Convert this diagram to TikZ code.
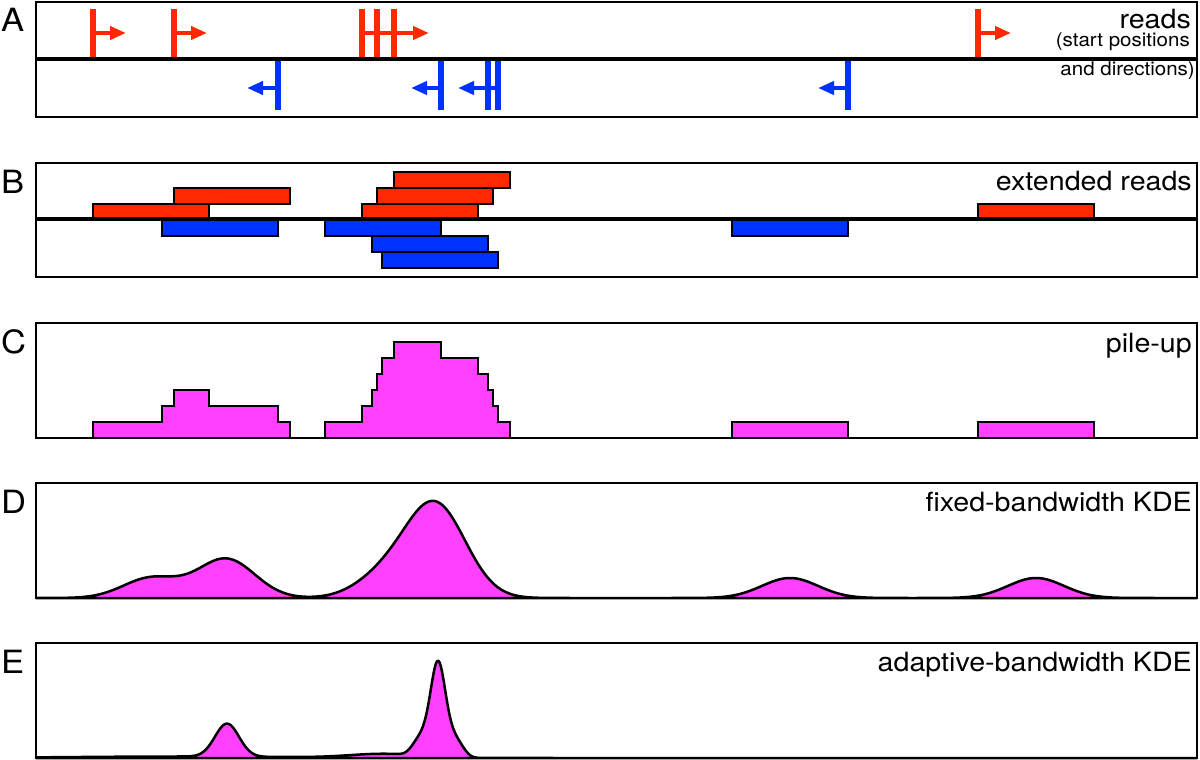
\documentclass[tikz,border=0pt]{standalone}
\usepackage{fontspec}
\setmainfont{TeX Gyre Heros}
\newfontfamily\lblfont[FakeStretch=1.08]{TeX Gyre Heros}
\usetikzlibrary{arrows.meta}
\definecolor{readred}{RGB}{255,40,0}
\definecolor{readblue}{RGB}{0,50,255}
\definecolor{pilefill}{RGB}{255,64,255}
\begin{document}
\begin{tikzpicture}[x=1pt,y=-1pt,
  declare function={g(\x,\c,\s)=exp(-0.5*(min(abs(\x-\c)/\s,7))^2);
                    sg(\x,\c,\s)=exp(-0.5*(min(abs(\x-\c)/\s,3))^4);},
  frame/.style={line width=2.5pt},
  midaxis/.style={line width=4pt},
  tickr/.style={readred,line width=5.5pt},
  tickb/.style={readblue,line width=5.5pt},
  fwd/.style={readred,line width=4pt,-{Triangle[length=16pt,width=13pt]}},
  rev/.style={readblue,line width=4pt,-{Triangle[length=16pt,width=13pt]}},
  redread/.style={fill=readred,draw=black,line width=2.5pt},
  blueread/.style={fill=readblue,draw=black,line width=2.5pt},
  pileup/.style={fill=pilefill,draw=black,line width=2.5pt,line join=miter},
  kde/.style={fill=pilefill,draw=black,line width=2.5pt,line join=round},
  panel/.style={anchor=base west,inner sep=0pt,font=\lblfont\fontsize{32}{34}\selectfont},
  captxt/.style={anchor=base east,inner sep=0pt,font=\lblfont\fontsize{26.5}{30}\selectfont},
  capsmall/.style={anchor=base east,inner sep=0pt,font=\lblfont\fontsize{19}{22}\selectfont}]
\useasboundingbox (0,0) rectangle (1200,760);

% ---------------- Panel A ----------------
\node[panel] (la) at (1,32) {A};
\draw[frame] (36,2) rectangle (1197,117);
\foreach \p in {93,174,362,377,394,978} \draw[tickr] (\p,9) -- (\p,59);
\draw[fwd] (93,33) -- (126,33);
\draw[fwd] (174,33) -- (207,33);
\draw[fwd] (362,33) -- (429,33);
\draw[fwd] (978,33) -- (1011,33);
\foreach \p in {278,441,488,498,848} \draw[tickb] (\p,59) -- (\p,110);
\draw[rev] (278,88) -- (247,88);
\draw[rev] (441,88) -- (411,88);
\draw[rev] (498,88) -- (458,88);
\draw[rev] (848,88) -- (818,88);
\draw[midaxis] (36,59) -- (1197,59);
\node[captxt] (ta1) at (1191,29) {reads};
\node[capsmall] (ta2) at (1190,47) {(start positions};
\node[capsmall] (ta3) at (1195,76) {and directions)};

% ---------------- Panel B ----------------
\node[panel] (lb) at (1,193) {B};
\draw[frame] (36,163) rectangle (1197,277);
\draw[redread] (93,204) rectangle (209,219);
\draw[redread] (174,188) rectangle (290,204);
\draw[redread] (362,204) rectangle (478,219);
\draw[redread] (377,188) rectangle (493,204);
\draw[redread] (394,172) rectangle (510,188);
\draw[redread] (978,204) rectangle (1094,219);
\draw[blueread] (162,219) rectangle (278,236);
\draw[blueread] (325,219) rectangle (441,236);
\draw[blueread] (372,236) rectangle (488,252);
\draw[blueread] (382,252) rectangle (498,268);
\draw[blueread] (732,219) rectangle (848,236);
\draw[midaxis] (36,219) -- (1197,219);
\node[captxt] (tb) at (1192,190) {extended reads};

% ---------------- Panel C ----------------
\node[panel] (lc) at (1,353) {C};
\draw[pileup] (93,438) -- (93,422) -- (162,422) -- (162,406) -- (174,406) -- (174,390)
  -- (209,390) -- (209,406) -- (278,406) -- (278,422) -- (290,422) -- (290,438) -- cycle;
\draw[pileup] (325,438) -- (325,422) -- (362,422) -- (362,406) -- (372,406) -- (372,390)
  -- (377,390) -- (377,374) -- (382,374) -- (382,358) -- (394,358) -- (394,342)
  -- (441,342) -- (441,358) -- (478,358) -- (478,374) -- (488,374) -- (488,390)
  -- (493,390) -- (493,406) -- (498,406) -- (498,422) -- (510,422) -- (510,438) -- cycle;
\draw[pileup] (732,438) rectangle (848,422);
\draw[pileup] (978,438) rectangle (1094,422);
\draw[frame] (36,323) rectangle (1197,438);
\node[captxt] (tc) at (1192,352) {pile-up};

% ---------------- Panel D ----------------
\node[panel] (ld) at (1,513) {D};
\draw[kde] plot[domain=36:1197,samples=700,smooth]
  (\x,{598-20*(g(\x,151,28)+g(\x,220,28)+g(\x,232,28)+g(\x,383,28)+g(\x,420,28)
   +g(\x,430,28)+g(\x,435,28)+g(\x,440,28)+g(\x,452,28)+g(\x,790,28)+g(\x,1036,28))})
  -- (1197,598) -- (36,598) -- cycle;
\draw[frame] (36,483) rectangle (1197,598);
\node[captxt] (td) at (1192,511) {fixed-bandwidth KDE};

% ---------------- Panel E ----------------
\node[panel] (le) at (1,673) {E};
\draw[kde] plot[domain=36:1197,samples=900,smooth]
  (\x,{758-(33*g(\x,227,12)+71*g(\x,438,7)+25*sg(\x,438,22)+4*g(\x,385,35)
   +1.5*g(\x,180,110))})
  -- (1197,758) -- (36,758) -- cycle;
\draw[frame] (36,643) rectangle (1197,758);
\node[captxt] (te) at (1192,671) {adaptive-bandwidth KDE};
\end{tikzpicture}
\end{document}
